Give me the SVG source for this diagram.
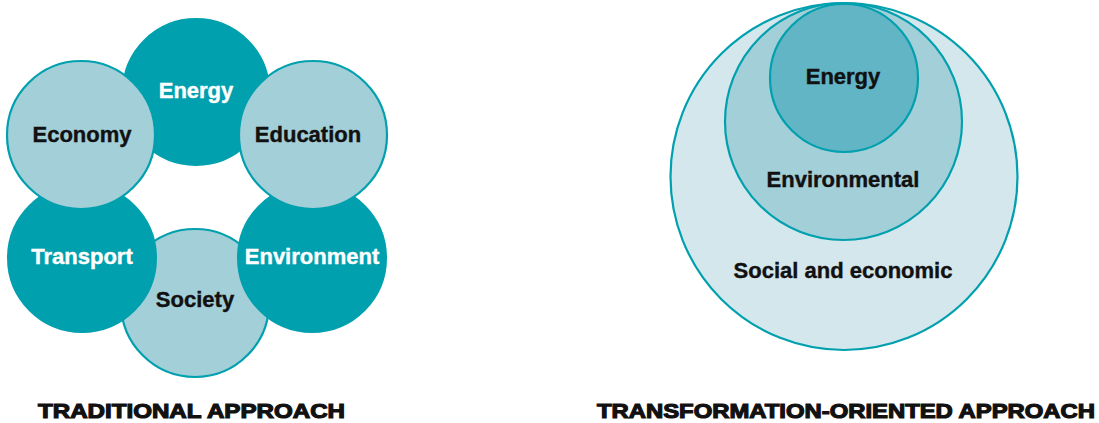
<svg xmlns="http://www.w3.org/2000/svg" width="1099" height="423" viewBox="0 0 1099 423">
<style>
.dark{fill:#00A0AE;stroke:#00A0AE;stroke-width:2}
.light{fill:#A3CFD8;stroke:#00A0AE;stroke-width:2.2}
.outer{fill:#D4E7EC;stroke:#00A0AE;stroke-width:2.2}
.mid{fill:#A3CFD8;stroke:#00A0AE;stroke-width:2.2}
.inner{fill:#62B5C4;stroke:#00A0AE;stroke-width:2.2}
text{font-family:"Liberation Sans",Arial,sans-serif;font-weight:bold;text-anchor:middle}
.lbl{font-size:22px}
.w{fill:#ffffff;stroke:#ffffff;stroke-width:0.4}
.k{fill:#111111;stroke:#111111;stroke-width:0.4}
.title{font-size:21px;fill:#111111;stroke:#111111;stroke-width:1.2;text-anchor:start}
</style>
<rect width="1099" height="423" fill="#ffffff"/>
<g id="traditional">
<g id="energy-t"><circle class="dark" cx="196" cy="92" r="73"/><text class="lbl w" x="196" y="98">Energy</text></g>
<g id="society"><circle class="light" cx="195" cy="303" r="74"/><text class="lbl k" x="195" y="307">Society</text></g>
<g id="transport"><circle class="dark" cx="82" cy="258" r="74"/><text class="lbl w" x="82" y="264">Transport</text></g>
<g id="environment"><circle class="dark" cx="312" cy="258" r="74"/><text class="lbl w" x="312" y="264">Environment</text></g>
<g id="economy"><circle class="light" cx="81" cy="135" r="74"/><text class="lbl k" x="82" y="142">Economy</text></g>
<g id="education"><circle class="light" cx="313" cy="135" r="74"/><text class="lbl k" x="308" y="142">Education</text></g>
</g>
<g id="transformation">
<g id="social-economic"><circle class="outer" cx="844" cy="176.5" r="173.5"/><text class="lbl k" x="843" y="278">Social and economic</text></g>
<g id="environmental"><circle class="mid" cx="843.5" cy="121.5" r="118.5"/><text class="lbl k" x="843" y="187">Environmental</text></g>
<g id="energy-r"><circle class="inner" cx="844" cy="78" r="74"/><text class="lbl k" x="843" y="84">Energy</text></g>
</g>
<g id="connectors"></g>
<g id="titles">
<text class="title" x="38" y="418" textLength="307" lengthAdjust="spacingAndGlyphs">TRADITIONAL APPROACH</text>
<text class="title" x="597" y="418" textLength="498" lengthAdjust="spacingAndGlyphs">TRANSFORMATION-ORIENTED APPROACH</text>
</g>
</svg>
